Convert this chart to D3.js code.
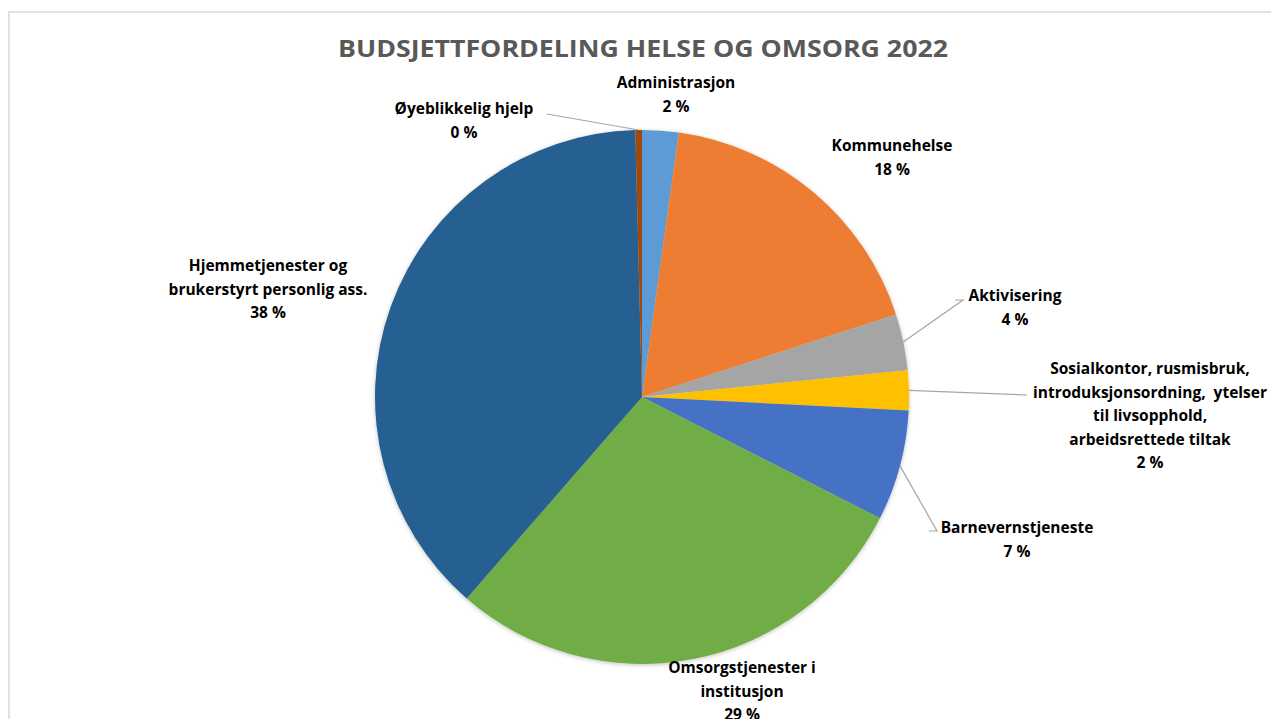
<!DOCTYPE html>
<html>
<head>
<meta charset="utf-8">
<script src="https://cdn.jsdelivr.net/npm/d3@7"></script>
<style>
  body { margin: 0; background: #fff; }
  svg { display: block; font-family: "Open Sans", Lato, sans-serif; }
</style>
</head>
<body>
<svg id="chart" width="1271" height="719"></svg>
<script>
// slice data, clockwise from 12 o'clock
const categories = [
  "Administrasjon", "Kommunehelse", "Aktivisering",
  "Sosialkontor, rusmisbruk, introduksjonsordning, ytelser til livsopphold, arbeidsrettede tiltak",
  "Barnevernstjeneste", "Omsorgstjenester i institusjon",
  "Hjemmetjenester og brukerstyrt personlig ass.", "Øyeblikkelig hjelp"
];
const values = [2.2, 17.8, 3.4, 2.4, 6.7, 28.9, 38.2, 0.4];
const percentLabels = ["2 %", "18 %", "4 %", "2 %", "7 %", "29 %", "38 %", "0 %"];
const colors = ["#5B9BD5", "#ED7D31", "#A5A5A5", "#FFC000", "#4472C4", "#70AD47", "#255E91", "#9E480E"];

// how each label is broken into lines
const labelLines = [
  ["Administrasjon"],
  ["Kommunehelse"],
  ["Aktivisering"],
  ["Sosialkontor, rusmisbruk,", "introduksjonsordning,  ytelser", "til livsopphold,", "arbeidsrettede tiltak"],
  ["Barnevernstjeneste"],
  ["Omsorgstjenester i", "institusjon"],
  ["Hjemmetjenester og", "brukerstyrt personlig ass."],
  ["Øyeblikkelig hjelp"]
];

const width = 1271, height = 719;
const cx = 642, cy = 397, radius = 267;
const lineH = 23.5;

// label anchor (center x, first baseline y) and leader line end point, if any
const labelLayout = [
  { x: 676, y: 88 },
  { x: 892, y: 151 },
  { x: 1015, y: 301, leader: [[963, 300], [955, 300]] },
  { x: 1150, y: 374, leader: [[1027, 395]] },
  { x: 1017, y: 533, leader: [[937, 531], [929, 531]] },
  { x: 742, y: 673 },
  { x: 268, y: 271 },
  { x: 464, y: 114, leader: [[547, 114]] }
];

const svg = d3.select("#chart");

// chart area border
svg.append("rect")
  .attr("x", 9).attr("y", 12)
  .attr("width", width + 10).attr("height", height + 10)
  .attr("fill", "#fff")
  .attr("stroke", "#d9d9d9")
  .attr("stroke-width", 1.5);

svg.append("text")
  .attr("x", 643).attr("y", 57)
  .attr("text-anchor", "middle")
  .attr("font-size", 24)
  .attr("font-weight", "bold")
  .attr("fill", "#595959")
  .attr("textLength", 610)
  .attr("lengthAdjust", "spacingAndGlyphs")
  .text("BUDSJETTFORDELING HELSE OG OMSORG 2022");

const defs = svg.append("defs");
const shadow = defs.append("filter").attr("id", "shadow")
  .attr("x", "-10%").attr("y", "-10%").attr("width", "120%").attr("height", "120%");
shadow.append("feDropShadow")
  .attr("dx", 0).attr("dy", 1).attr("stdDeviation", 2)
  .attr("flood-color", "#000").attr("flood-opacity", 0.25);

const pie = d3.pie().sort(null).value(d => d)(values);
const arc = d3.arc().innerRadius(0).outerRadius(radius);

const g = svg.append("g").attr("transform", `translate(${cx},${cy})`);
g.append("g").attr("filter", "url(#shadow)")
  .selectAll("path")
  .data(pie)
  .join("path")
    .attr("d", arc)
    .attr("fill", (d, i) => colors[i]);

// leader lines
pie.forEach((d, i) => {
  const lay = labelLayout[i];
  if (!lay.leader) return;
  const a = (d.startAngle + d.endAngle) / 2;
  const start = [cx + Math.sin(a) * radius, cy - Math.cos(a) * radius];
  const pts = [start, ...lay.leader];
  svg.append("path")
    .attr("d", d3.line()(pts.slice().reverse()))
    .attr("fill", "none")
    .attr("stroke", "#a6a6a6")
    .attr("stroke-width", 1.2);
});

// labels
pie.forEach((d, i) => {
  const lay = labelLayout[i];
  const lines = labelLines[i].concat([percentLabels[i]]);
  const t = svg.append("text")
    .attr("text-anchor", "middle")
    .attr("font-size", 15.5)
    .attr("font-weight", "bold")
    .attr("fill", "#000")
    .style("white-space", "pre");
  lines.forEach((ln, k) => {
    t.append("tspan")
      .attr("x", lay.x)
      .attr("y", lay.y + k * lineH)
      .text(ln);
  });
});
</script>
</body>
</html>
